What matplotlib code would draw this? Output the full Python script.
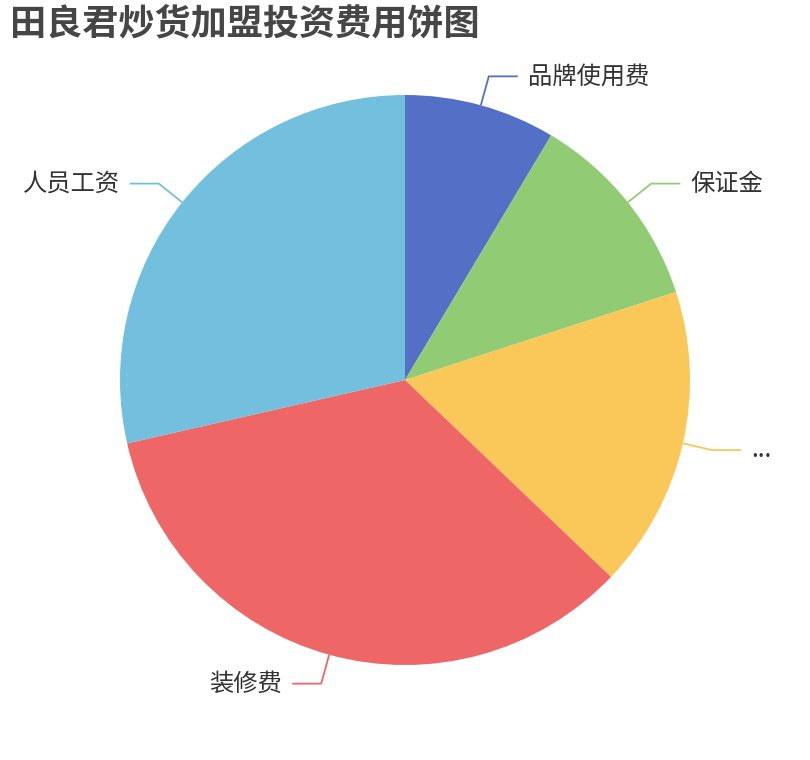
import numpy as np
import matplotlib
matplotlib.use("Agg")
import matplotlib.pyplot as plt

plt.rcParams['font.family'] = ['Noto Sans CJK SC', 'DejaVu Sans']

title = "田良君炒货加盟投资费用饼图"
categories = ["品牌使用费", "保证金", "...", "装修费", "人员工资"]
values = [3, 4, 6, 12, 10]
colors = ["#5470c6", "#91cc75", "#fac858", "#ee6666", "#73c0de"]

W, H = 810, 760
fig = plt.figure(figsize=(W / 100, H / 100), dpi=100)
ax = fig.add_axes([0, 0, 1, 1])
ax.set_xlim(0, W)
ax.set_ylim(0, H)
ax.set_aspect('equal')
ax.axis('off')

cx, cy, R = 405, 380, 285
wedges, _ = ax.pie(values, colors=colors, startangle=90, counterclock=False,
                   center=(cx, cy), radius=R, frame=True,
                   wedgeprops=dict(linewidth=0, antialiased=True))
ax.set_xlim(0, W)
ax.set_ylim(0, H)
ax.axis('off')

L1, L2 = 30, 29
for w, lab, col in zip(wedges, categories, colors):
    mid = np.deg2rad((w.theta1 + w.theta2) / 2)
    x0, y0 = cx + R * np.cos(mid), cy + R * np.sin(mid)
    x1, y1 = cx + (R + L1) * np.cos(mid), cy + (R + L1) * np.sin(mid)
    side = 1 if np.cos(mid) >= 0 else -1
    x2 = x1 + side * L2
    ax.plot([x0, x1, x2], [y0, y1, y1], color=col, lw=1.3, solid_capstyle='butt')
    ax.text(x2 + side * 10, y1, lab, ha='left' if side > 0 else 'right',
            va='center', fontsize=17.5, color='#333333')

fig.text(10 / W, 1 - 24 / H, title, ha='left', va='center', fontsize=26,
         fontweight='bold', color='#464646')

fig.savefig("out.png", dpi=100, facecolor='white')
